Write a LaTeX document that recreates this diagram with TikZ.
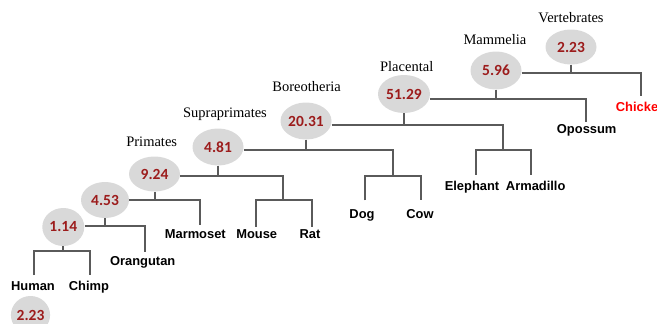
\documentclass[tikz,border=0pt]{standalone}
\usepackage{fontspec}
\setmainfont{Liberation Serif}
\newfontfamily\numfont{Carlito}
\newfontfamily\spfont{Liberation Sans}
\usetikzlibrary{shapes.geometric}
\definecolor{linegray}{HTML}{5A5A5A}
\definecolor{ellgray}{HTML}{D9D9D9}
\definecolor{numred}{HTML}{9C1C1C}
\definecolor{chickred}{HTML}{FF0000}
\begin{document}
\begin{tikzpicture}[x=1pt,y=-1pt,
  num/.style={ellipse, fill=ellgray, inner sep=0pt, text=numred,
    minimum width=51pt, minimum height=37pt,
    font=\numfont\bfseries\fontsize{15.5}{17}\selectfont},
  clade/.style={anchor=base, inner sep=0pt, font=\fontsize{14.5}{16}\selectfont},
  sp/.style={anchor=base, inner sep=0pt, font=\spfont\bfseries\fontsize{12.9}{14}\selectfont},
  br/.style={draw=linegray, line width=2pt}]
\useasboundingbox (0,0) rectangle (657,324);
\clip (0,0) rectangle (657,324);

% ellipses with rates
\node[num, minimum width=42pt, minimum height=38pt] (e114) at (63.3,227) {1.14};
\node[num, minimum width=48pt, minimum height=36pt] (e453) at (105,200) {4.53};
\node[num, minimum height=35pt] (e924) at (154.5,174) {9.24};
\node[num] (e481) at (218,147) {4.81};
\node[num] (e2031) at (306,121) {20.31};
\node[num, minimum width=52pt, minimum height=38pt] (e5129) at (404,94) {51.29};
\node[num, minimum height=38pt] (e596) at (496,70.5) {5.96};
\node[num, minimum height=35pt] (e223) at (571,47) {2.23};
\node[num, minimum width=39pt, minimum height=38pt] (ebot) at (30.5,315) {2.23};

% clade labels
\node[clade] (lprim) at (151.7,146) {Primates};
\node[clade] (lsupra) at (225,117) {Supraprimates};
\node[clade] (lbor) at (306.7,91.7) {Boreotheria};
\node[clade] (lplac) at (406.7,71.5) {Placental};
\node[clade] (lmam) at (495,45) {Mammelia};
\node[clade] (lvert) at (571,23) {Vertebrates};

% species
\node[sp] (human) at (33,290.2) {Human};
\node[sp] (chimp) at (89,290.2) {Chimp};
\node[sp] (orang) at (142.7,265.9) {Orangutan};
\node[sp] (marm) at (195.3,238.2) {Marmoset};
\node[sp] (mouse) at (256.7,238.2) {Mouse};
\node[sp] (rat) at (310,238.2) {Rat};
\node[sp] (dog) at (362,218.5) {Dog};
\node[sp] (cow) at (420,218.5) {Cow};
\node[sp] (eleph) at (472,190.9) {Elephant};
\node[sp] (armad) at (535.7,190.9) {Armadillo};
\node[sp] (opos) at (586.7,133.2) {Opossum};
\node[sp, text=chickred] (chick) at (641,111.9) {Chicken};

% junction heights (bars) and sub-clade junctions
\coordinate (j114) at (0,251);
\coordinate (j453) at (0,226);
\coordinate (j924) at (0,200);
\coordinate (j481) at (0,176);
\coordinate (jmr) at (283,200);
\coordinate (j2031) at (0,150);
\coordinate (jdc) at (392.7,176);
\coordinate (j5129) at (0,125);
\coordinate (jea) at (503,150);
\coordinate (j596) at (0,99);
\coordinate (j223) at (0,73.3);

% branches
\draw[br] (e114.south) -- (e114.south |- j114);
\draw[br] ([xshift=1pt,yshift=6pt]human.north) |- (e114.south |- j114) -| ([xshift=1pt,yshift=6pt]chimp.north);

\draw[br] (e453.south) -- (e453.south |- j453);
\draw[br] (e114.east |- j453) -| ([xshift=2pt,yshift=5pt]orang.north);

\draw[br] (e924.south) -- (e924.south |- j924);
\draw[br] (e453.east |- j924) -| ([xshift=4.7pt,yshift=4pt]marm.north);

\draw[br] (e481.south) -- (e481.south |- j481);
\draw[br] (e924.east |- j481) -| (jmr);
\draw[br] ([xshift=-0.7pt,yshift=2.5pt]mouse.north) |- (jmr) -| ([xshift=2pt,yshift=2.5pt]rat.north);

\draw[br] (e2031.south) -- (e2031.south |- j2031);
\draw[br] (e481.east |- j2031) -| (jdc);
\draw[br] ([xshift=3pt,yshift=9pt]dog.north) |- (jdc) -| ([xshift=0.7pt,yshift=9pt]cow.north);

\draw[br] (e5129.south) -- (e5129.south |- j5129);
\draw[br] (e2031.east |- j5129) -| (jea);
\draw[br] ([xshift=4pt,yshift=6.7pt]eleph.north) |- (jea) -| ([xshift=-4.7pt,yshift=6.7pt]armad.north);

\draw[br] (e596.south) -- (e596.south |- j596);
\draw[br] (e5129.east |- j596) -| ([xshift=-0.7pt,yshift=2.3pt]opos.north);

\draw[br] (e223.south) -- (e223.south |- j223);
\draw[br] (e596.east |- j223) -| ([yshift=6pt]chick.north);
\end{tikzpicture}
\end{document}
